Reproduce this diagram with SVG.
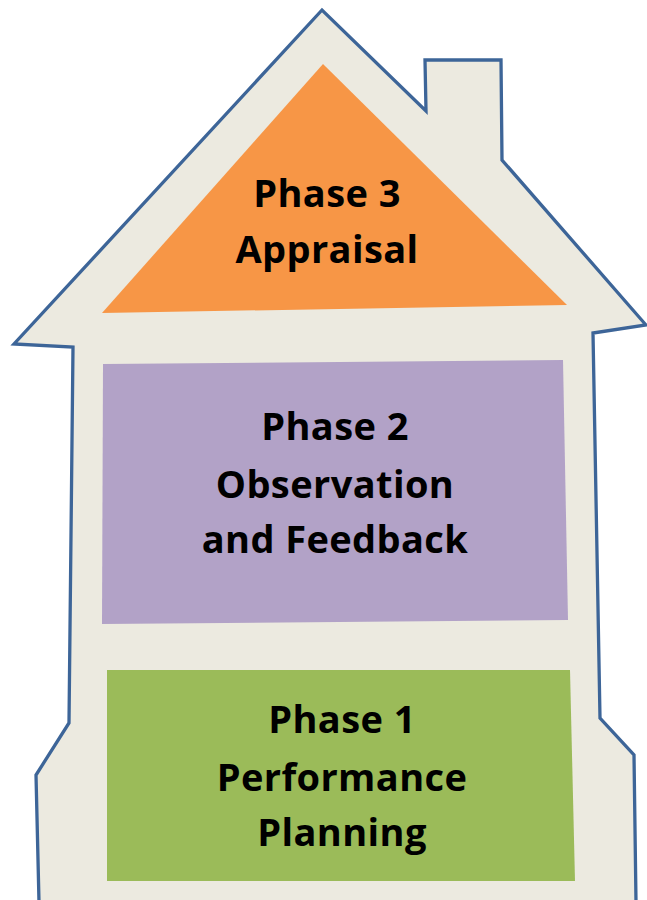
<svg xmlns="http://www.w3.org/2000/svg" width="647" height="900" viewBox="0 0 647 900">
  <style>
    .label { font-family: "Open Sans", "Liberation Sans", sans-serif; font-weight: 700; font-size: 38px; letter-spacing: 0.4px; fill: #000; text-anchor: middle; }
  </style>
  <rect width="647" height="900" fill="#ffffff"/>
  <!-- house outline with chimney -->
  <g id="house">
    <path d="M39,902 L36,775 L69,723 L73,347 L14,344 L322,10 L426,111 L425,60 L501,60 L502,160 L646,325 L593,333 L600,718 L634,755 L636,902"
          fill="#ECEAE0" stroke="#3D6598" stroke-width="3.3" stroke-linejoin="miter"/>
  </g>
  <g id="phase3">
    <polygon points="323,64 567,305 102,313" fill="#F79646"/>
    <text class="label" x="327" y="207">Phase 3</text>
    <text class="label" x="327" y="263">Appraisal</text>
  </g>
  <g id="phase2">
    <polygon points="103,364 563,360 568,620 102,624" fill="#B2A2C7"/>
    <text class="label" x="335" y="440">Phase 2</text>
    <text class="label" x="335" y="497.5">Observation</text>
    <text class="label" x="335" y="553">and Feedback</text>
  </g>
  <g id="phase1">
    <polygon points="107,670 570,670 575,881 107,881" fill="#9BBB59"/>
    <text class="label" x="342" y="733">Phase 1</text>
    <text class="label" x="342" y="790.5">Performance</text>
    <text class="label" x="342" y="846">Planning</text>
  </g>
</svg>
